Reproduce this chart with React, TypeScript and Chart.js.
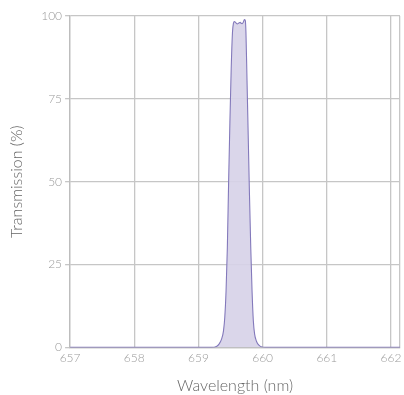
import React, { useEffect, useRef } from "react";
import { Chart, registerables } from "chart.js";

Chart.register(...registerables);

const wavelength = [
  657, 659.2, 659.28, 659.32, 659.36, 659.39, 659.41, 659.43, 659.45, 659.47, 659.49,
  659.51, 659.53, 659.545, 659.56, 659.58, 659.605, 659.63, 659.65, 659.665, 659.68,
  659.70, 659.715, 659.73, 659.74, 659.755, 659.775, 659.795, 659.815, 659.835,
  659.855, 659.875, 659.905, 659.945, 659.99, 660.05, 662.14,
];
const transmission = [
  0, 0, 0.3, 1, 2.5, 5, 9, 17, 30, 50, 68,
  84, 95, 97.8, 98.3, 98.0, 97.6, 97.9, 98.1, 97.8, 97.7,
  98.2, 98.9, 98.6, 95, 82, 64, 46, 30, 17,
  8, 4, 1.8, 0.6, 0.1, 0, 0,
];
const yTicks = [0, 25, 50, 75, 100];
const xTicks = [657, 658, 659, 660, 661, 662];

const FONT = "Lato, 'DejaVu Sans', sans-serif";

export default function App() {
  const ref = useRef<HTMLCanvasElement | null>(null);
  useEffect(() => {
    if (!ref.current) return;
    const chart = new Chart(ref.current, {
      type: "scatter",
      data: {
        datasets: [
          {
            data: wavelength.map((w, i) => ({ x: w, y: transmission[i] })),
            showLine: true,
            borderColor: "#8379bb",
            borderWidth: 1.1,
            backgroundColor: "rgba(214,209,232,0.9)",
            fill: "origin",
            pointRadius: 0,
            tension: 0.3,
            cubicInterpolationMode: "monotone",
          },
        ],
      },
      options: {
        animation: false,
        responsive: true,
        maintainAspectRatio: false,
        layout: { padding: { top: 16, right: 1.5, left: 7, bottom: 0 } },
        plugins: { legend: { display: false }, tooltip: { enabled: false } },
        scales: {
          x: {
            type: "linear",
            min: 657,
            max: 662.14,
            afterBuildTicks: (axis: any) => {
              axis.ticks = [...xTicks.map((v) => ({ value: v })), { value: 662.14 }];
            },
            ticks: {
              callback: (v: any) => (xTicks.includes(Number(v)) ? String(v) : ""),
              color: "#9a9a9a",
              font: { family: FONT, size: 12, weight: "300" },
              padding: 4,
              maxRotation: 0,
              autoSkip: false,
            },
            grid: { color: "#c6c6c6", lineWidth: 1.3, drawTicks: false },
            border: { color: "#bdbdbd", width: 1.3 },
            title: {
              display: true,
              text: "Wavelength (nm)",
              color: "#666",
              font: { family: FONT, size: 16, weight: "300" },
              padding: { top: 6, bottom: 0 },
            },
          },
          y: {
            type: "linear",
            min: 0,
            max: 100,
            afterBuildTicks: (axis: any) => {
              axis.ticks = yTicks.map((v) => ({ value: v }));
            },
            ticks: {
              color: "#9a9a9a",
              font: { family: FONT, size: 12, weight: "300" },
              padding: 3,
            },
            grid: { color: "#c6c6c6", lineWidth: 1.3, drawTicks: true, tickLength: 5 },
            border: { color: "#bdbdbd", width: 1.3 },
            title: {
              display: true,
              text: "Transmission (%)",
              color: "#666",
              font: { family: FONT, size: 16, weight: "300" },
              padding: { top: 0, bottom: 12 },
            },
          },
        },
      },
    });
    return () => chart.destroy();
  }, []);
  return (
    <div style={{ position: "fixed", left: 0, top: 0, width: 404, height: 395, background: "#fff" }}>
      <canvas ref={ref} />
    </div>
  );
}
